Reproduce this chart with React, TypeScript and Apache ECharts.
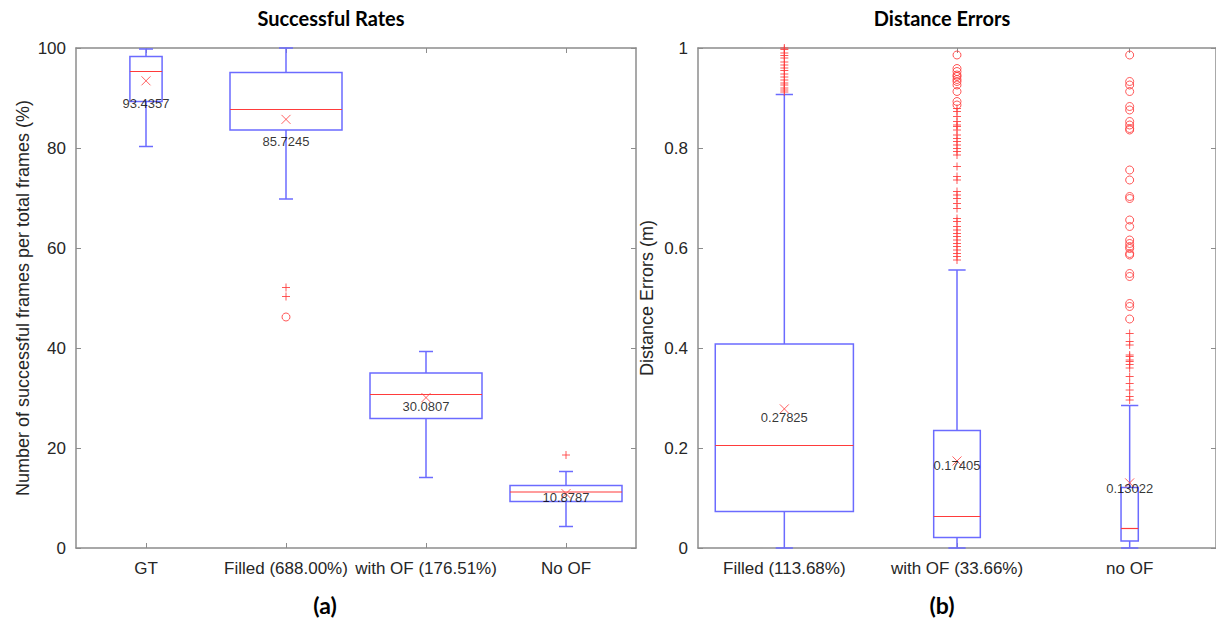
import React, { useEffect, useRef } from "react";
import * as echarts from "echarts";

// ---------- Data: (a) Successful Rates ----------
const leftCategories = ["GT", "Filled (688.00%)", "with OF (176.51%)", "No OF"];
const leftLowWhisker = [80.3, 69.8, 14.1, 4.3];
const leftQ1 = [89.3, 83.6, 25.9, 9.3];
const leftMedian = [95.3, 87.7, 30.7, 11.2];
const leftQ3 = [98.3, 95.1, 35.0, 12.5];
const leftHighWhisker = [99.8, 100, 39.3, 15.3];
const leftMeans = [93.4357, 85.7245, 30.0807, 10.8787];
const leftPlusOutliers: [number, number][] = [
  [2, 52.1],
  [2, 50.3],
  [4, 18.6],
];
const leftCircleOutliers: [number, number][] = [[2, 46.2]];
const leftYTicks = [0, 20, 40, 60, 80, 100];

// ---------- Data: (b) Distance Errors ----------
const rightCategories = ["Filled (113.68%)", "with OF (33.66%)", "no OF"];
const rightLowWhisker = [0, 0, 0];
const rightQ1 = [0.073, 0.021, 0.014];
const rightMedian = [0.205, 0.063, 0.039];
const rightQ3 = [0.408, 0.235, 0.121];
const rightHighWhisker = [0.907, 0.556, 0.285];
const rightMeans = [0.27825, 0.17405, 0.13022];
const filledPlus = [1.0, 0.997, 0.99, 0.985, 0.98, 0.972, 0.966, 0.96, 0.955, 0.948, 0.942, 0.936, 0.93, 0.926, 0.92, 0.916, 0.912];
const withOFCircles = [0.986, 0.959, 0.953, 0.946, 0.943, 0.937, 0.933, 0.926, 0.913, 0.893, 0.886];
const withOFPlus = [
  0.879, 0.873, 0.863, 0.853, 0.846, 0.843, 0.836, 0.826, 0.819, 0.813, 0.806, 0.799, 0.793, 0.786, 0.763, 0.743,
  0.736, 0.713, 0.706, 0.699, 0.689, 0.679, 0.659, 0.653, 0.643, 0.636, 0.629, 0.623, 0.616, 0.609, 0.603, 0.596,
  0.589, 0.583, 0.576,
];
const noOFCircles = [
  0.986, 0.933, 0.926, 0.913, 0.883, 0.876, 0.853, 0.846, 0.839, 0.836, 0.756, 0.736, 0.703, 0.699, 0.656, 0.643,
  0.616, 0.609, 0.603, 0.599, 0.589, 0.586, 0.549, 0.543, 0.489, 0.483, 0.458,
];
const noOFPlus = [0.429, 0.413, 0.406, 0.386, 0.383, 0.376, 0.373, 0.367, 0.36, 0.343, 0.329, 0.316, 0.303, 0.296];
const rightYTicks = [0, 0.2, 0.4, 0.6, 0.8, 1];

// ---------- Styling (not data) ----------
const leftBoxWidths = [0.23, 0.8, 0.8, 0.8];
const rightBoxWidths = [0.8, 0.27, 0.1];
const leftMeanLabelDy = [23, 22, 8.5, 4];
const rightMeanLabelDy = [8.5, 5, 5.5];

const BLUE = "#6b6bff";
const RED = "#ff3b3b";
const AXIS = "#8c8c8c";
const TEXT = "#262626";
const FONT = "Liberation Sans";

const PLUS = "path://M0,5L10,5M5,0L5,10";
const CROSS = "path://M0,0L10,10M10,0L0,10";

function boxRows(lo: number[], q1: number[], med: number[], q3: number[], hi: number[], w: number[]) {
  return lo.map((_, i) => [i + 1, lo[i], q1[i], med[i], q3[i], hi[i], w[i]]);
}

function renderBox(_params: any, api: any) {
  const x = api.value(0);
  const lo = api.value(1);
  const q1 = api.value(2);
  const med = api.value(3);
  const q3 = api.value(4);
  const hi = api.value(5);
  const half = api.value(6) / 2;
  const cap = 0.05;
  const tl = api.coord([x - half, q3]);
  const br = api.coord([x + half, q1]);
  const mL = api.coord([x - half, med]);
  const mR = api.coord([x + half, med]);
  const cQ3 = api.coord([x, q3]);
  const cHi = api.coord([x, hi]);
  const cQ1 = api.coord([x, q1]);
  const cLo = api.coord([x, lo]);
  const capHiL = api.coord([x - cap, hi]);
  const capHiR = api.coord([x + cap, hi]);
  const capLoL = api.coord([x - cap, lo]);
  const capLoR = api.coord([x + cap, lo]);
  const blue = { stroke: BLUE, lineWidth: 1.5, fill: "none" };
  return {
    type: "group",
    children: [
      { type: "line", shape: { x1: cQ3[0], y1: cQ3[1], x2: cHi[0], y2: cHi[1] }, style: blue },
      { type: "line", shape: { x1: cLo[0], y1: cLo[1], x2: cQ1[0], y2: cQ1[1] }, style: blue },
      { type: "line", shape: { x1: capHiL[0], y1: capHiL[1], x2: capHiR[0], y2: capHiR[1] }, style: blue },
      { type: "line", shape: { x1: capLoL[0], y1: capLoL[1], x2: capLoR[0], y2: capLoR[1] }, style: blue },
      {
        type: "rect",
        shape: { x: tl[0], y: tl[1], width: br[0] - tl[0], height: br[1] - tl[1] },
        style: blue,
      },
      { type: "line", shape: { x1: mL[0], y1: mL[1], x2: mR[0], y2: mR[1] }, style: { stroke: RED, lineWidth: 1.2 } },
    ],
  };
}

const axisLineStyle = { color: AXIS, width: 1.5 };

function xAxisFor(gridIndex: number, cats: string[], position: string, showLabels: boolean) {
  const vals = cats.map((_, i) => i + 1);
  return {
    type: "value",
    gridIndex,
    position,
    min: 0.5,
    max: cats.length + 0.5,
    axisLine: { show: true, onZero: false, lineStyle: axisLineStyle },
    axisTick: { show: true, inside: true, length: 5, customValues: vals, lineStyle: { color: AXIS, width: 1 } },
    axisLabel: {
      show: showLabels,
      customValues: vals,
      formatter: (v: number) => cats[Math.round(v) - 1] ?? "",
      color: TEXT,
      fontSize: 17,
      fontFamily: FONT,
      margin: 12,
    },
    splitLine: { show: false },
  };
}

function yAxisFor(gridIndex: number, ticks: number[], position: string, showLabels: boolean, name?: string, nameGap?: number) {
  return {
    type: "value",
    gridIndex,
    position,
    min: ticks[0],
    max: ticks[ticks.length - 1],
    interval: ticks[1] - ticks[0],
    name: name ?? "",
    nameLocation: "middle",
    nameRotate: 90,
    nameGap: nameGap ?? 0,
    nameTextStyle: { color: TEXT, fontSize: 18, fontFamily: FONT },
    axisLine: { show: true, onZero: false, lineStyle: axisLineStyle },
    axisTick: { show: true, inside: true, length: 5, lineStyle: { color: AXIS, width: 1 } },
    axisLabel: { show: showLabels, color: TEXT, fontSize: 17, fontFamily: FONT, margin: 10 },
    splitLine: { show: false },
  };
}

function outlierSeries(points: [number, number][], symbol: string, xAxisIndex: number, yAxisIndex: number) {
  return {
    type: "scatter",
    xAxisIndex,
    yAxisIndex,
    symbol,
    symbolSize: 8,
    itemStyle: { color: "rgba(0,0,0,0)", borderColor: RED, borderWidth: 1, opacity: 0.85 },
    data: points,
    z: 3,
  };
}

function meanSeries(means: number[], dys: number[], xAxisIndex: number, yAxisIndex: number) {
  return {
    type: "scatter",
    xAxisIndex,
    yAxisIndex,
    symbol: CROSS,
    symbolSize: 9,
    itemStyle: { color: "rgba(0,0,0,0)", borderColor: RED, borderWidth: 1 },
    data: means.map((m, i) => ({
      value: [i + 1, m],
      label: { offset: [0, dys[i]] },
    })),
    label: {
      show: true,
      position: "inside",
      formatter: (p: any) => String(p.value[1]),
      color: "#000",
      fontSize: 13,
      fontFamily: FONT,
    },
    z: 4,
  };
}

const toPoints = (cat: number, vals: number[]): [number, number][] => vals.map((v) => [cat, v]);

export default function App() {
  const ref = useRef<HTMLDivElement>(null);

  useEffect(() => {
    document.body.style.margin = "0";
    if (!ref.current) return;
    const chart = echarts.init(ref.current, undefined, { renderer: "svg" });
    const option: any = {
      animation: false,
      backgroundColor: "#ffffff",
      grid: [
        { left: 76, top: 48, width: 560, height: 500 },
        { left: 698, top: 48, width: 521, height: 500 },
      ],
      xAxis: [
        xAxisFor(0, leftCategories, "bottom", true),
        xAxisFor(0, leftCategories, "top", false),
        xAxisFor(1, rightCategories, "bottom", true),
        xAxisFor(1, rightCategories, "top", false),
      ],
      yAxis: [
        yAxisFor(0, leftYTicks, "left", true, "Number of successful frames per total frames (%)", 44),
        yAxisFor(0, leftYTicks, "right", false),
        yAxisFor(1, rightYTicks, "left", true, "Distance Errors (m)", 42),
        yAxisFor(1, rightYTicks, "right", false),
      ],
      series: [
        {
          type: "custom",
          xAxisIndex: 0,
          yAxisIndex: 0,
          renderItem: renderBox,
          encode: { x: 0, y: [1, 2, 3, 4, 5] },
          data: boxRows(leftLowWhisker, leftQ1, leftMedian, leftQ3, leftHighWhisker, leftBoxWidths),
          z: 2,
        },
        {
          type: "custom",
          xAxisIndex: 2,
          yAxisIndex: 2,
          renderItem: renderBox,
          encode: { x: 0, y: [1, 2, 3, 4, 5] },
          data: boxRows(rightLowWhisker, rightQ1, rightMedian, rightQ3, rightHighWhisker, rightBoxWidths),
          z: 2,
        },
        outlierSeries(leftPlusOutliers, PLUS, 0, 0),
        outlierSeries(leftCircleOutliers, "circle", 0, 0),
        outlierSeries(toPoints(1, filledPlus), PLUS, 2, 2),
        outlierSeries(toPoints(2, withOFPlus), PLUS, 2, 2),
        outlierSeries(toPoints(2, withOFCircles), "circle", 2, 2),
        outlierSeries(toPoints(3, noOFPlus), PLUS, 2, 2),
        outlierSeries(toPoints(3, noOFCircles), "circle", 2, 2),
        meanSeries(leftMeans, leftMeanLabelDy, 0, 0),
        meanSeries(rightMeans, rightMeanLabelDy, 2, 2),
      ],
      graphic: [
        {
          type: "text",
          x: 331,
          y: 18,
          style: { text: "Successful Rates", font: "bold 20px Lato, 'Open Sans', sans-serif", fill: "#000", textAlign: "center", textVerticalAlign: "middle" },
        },
        {
          type: "text",
          x: 942,
          y: 18,
          style: { text: "Distance Errors", font: "bold 20px Lato, 'Open Sans', sans-serif", fill: "#000", textAlign: "center", textVerticalAlign: "middle" },
        },
        {
          type: "text",
          x: 325,
          y: 605,
          style: { text: "(a)", font: "bold 23px Lato, 'Open Sans', sans-serif", fill: "#000", textAlign: "center", textVerticalAlign: "middle" },
        },
        {
          type: "text",
          x: 942,
          y: 605,
          style: { text: "(b)", font: "bold 23px Lato, 'Open Sans', sans-serif", fill: "#000", textAlign: "center", textVerticalAlign: "middle" },
        },
      ],
    };
    chart.setOption(option);
    return () => chart.dispose();
  }, []);

  return <div ref={ref} style={{ width: 1216, height: 623 }} />;
}
